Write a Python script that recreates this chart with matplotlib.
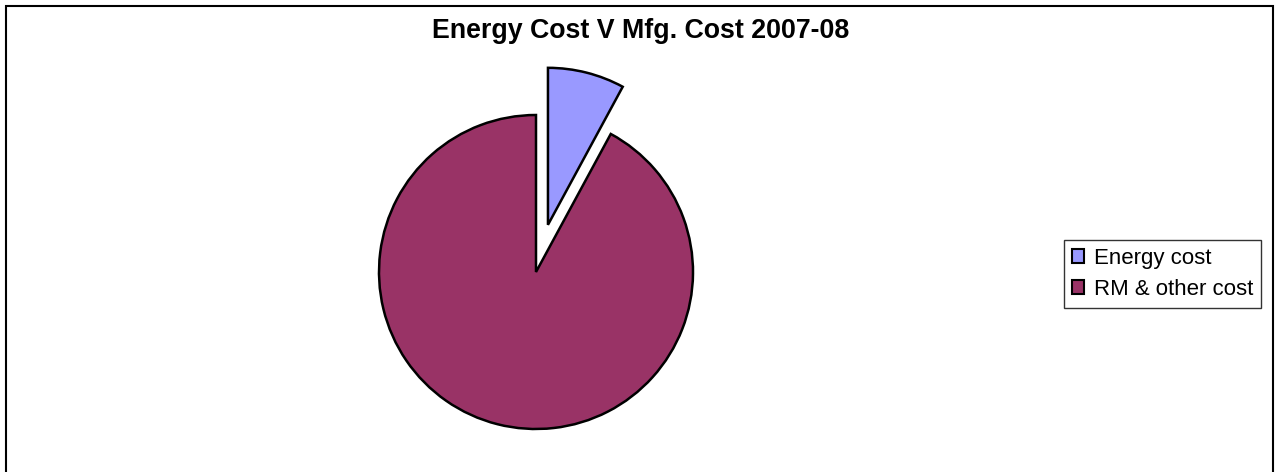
import matplotlib
matplotlib.use("Agg")
import matplotlib.pyplot as plt
from matplotlib.patches import Rectangle

labels = ["Energy cost", "RM & other cost"]
shares = [7.9, 92.1]
colors = ["#9999FF", "#993366"]
explode = [0.31, 0.0]
title = "Energy Cost V Mfg. Cost 2007-08"

plt.rcParams["font.family"] = ["Liberation Sans", "DejaVu Sans"]

W, H = 1275, 472
fig = plt.figure(figsize=(W / 100, H / 100), dpi=100)

# outer chart border
fig.patches.append(Rectangle((6 / W, -0.01), (1273 - 6) / W, (H - 6) / H + 0.01,
                             transform=fig.transFigure, fill=False,
                             edgecolor="black", linewidth=1.5))

r = 157  # pie radius in px
cx, cy = 536, H - 272
xl, yb, yt = 1.3, 1.2, 1.4
ax = fig.add_axes([(cx - xl * r) / W, (cy - yb * r) / H, 2 * xl * r / W, (yb + yt) * r / H])
ax.pie(shares, colors=colors, explode=explode, startangle=90, counterclock=False,
       wedgeprops=dict(edgecolor="black", linewidth=1.8))
ax.set_xlim(-xl, xl)
ax.set_ylim(-yb, yt)
ax.set_aspect("equal")
ax.axis("off")

fig.text(641 / W, 1 - 31 / H, title, ha="center", va="center", fontsize=19.3, fontweight="bold")

handles = [Rectangle((0, 0), 1, 1, facecolor=c, edgecolor="black", linewidth=1.5) for c in colors]
leg = fig.legend(handles, labels, loc="center left", bbox_to_anchor=(1064 / W, 1 - 274 / H),
                 fontsize=16, frameon=True, fancybox=False, handlelength=0.55, handleheight=0.55,
                 handletextpad=0.45, borderpad=0.35, labelspacing=0.45, borderaxespad=0)
leg.get_frame().set_edgecolor("black")
leg.get_frame().set_linewidth(1.0)

fig.savefig("out.png", dpi=100)
